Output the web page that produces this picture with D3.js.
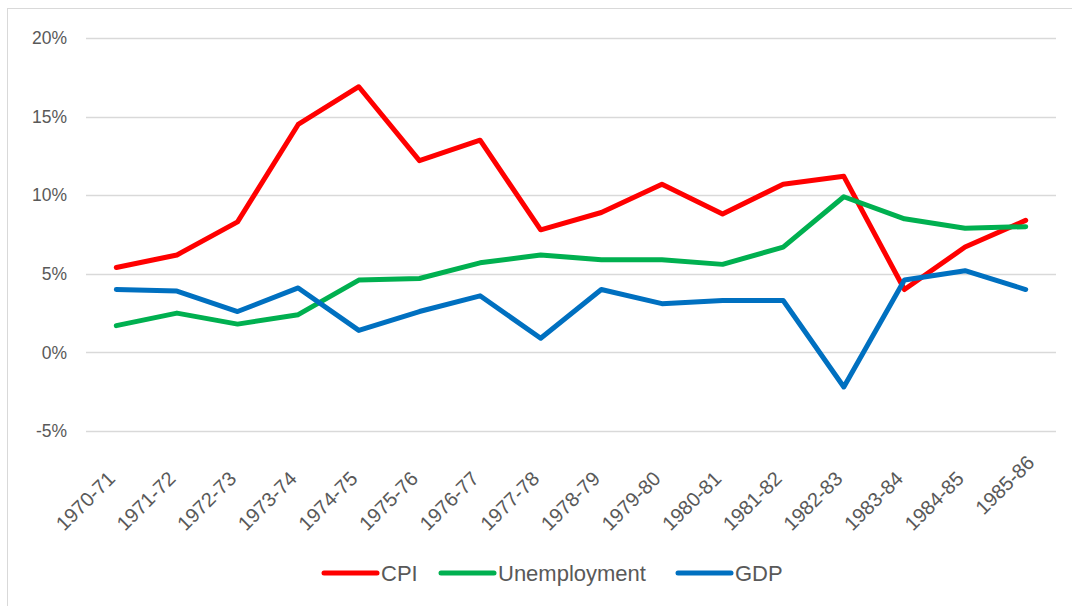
<!DOCTYPE html>
<html>
<head>
<meta charset="utf-8">
<script src="https://cdn.jsdelivr.net/npm/d3@7"></script>
<style>
  body { margin: 0; background: #fff; }
  svg { font-family: "Liberation Sans", "DejaVu Sans", sans-serif; }
</style>
</head>
<body>
<div id="chart"></div>
<script>
const width = 1072;
const height = 606;
const margin = { top: 38, right: 16, bottom: 174, left: 86 };

const years = ["1970-71", "1971-72", "1972-73", "1973-74", "1974-75", "1975-76", "1976-77", "1977-78",
    "1978-79", "1979-80", "1980-81", "1981-82", "1982-83", "1983-84", "1984-85", "1985-86"];
const cpi = [5.4, 6.2, 8.3, 14.5, 16.9, 12.2, 13.5, 7.8, 8.9, 10.7, 8.8, 10.7, 11.2, 4.0, 6.7, 8.4];
const unemployment = [1.7, 2.5, 1.8, 2.4, 4.6, 4.7, 5.7, 6.2, 5.9, 5.9, 5.6, 6.7, 9.9, 8.5, 7.9, 8.0];
const gdp = [4.0, 3.9, 2.6, 4.1, 1.4, 2.6, 3.6, 0.9, 4.0, 3.1, 3.3, 3.3, -2.2, 4.6, 5.2, 4.0];
const yTicks = [-5, 0, 5, 10, 15, 20];

const series = [
    { name: "CPI", values: cpi, color: "#FF0000" },
    { name: "Unemployment", values: unemployment, color: "#00B050" },
    { name: "GDP", values: gdp, color: "#0070C0" }
];

const svg = d3.select("#chart").append("svg")
    .attr("width", width)
    .attr("height", height);

// chart frame
svg.append("rect")
    .attr("x", 7.5).attr("y", 8.5)
    .attr("width", 1100).attr("height", 700)
    .attr("fill", "none")
    .attr("stroke", "#D9D9D9");

const x = d3.scaleBand()
    .domain(years)
    .range([margin.left, width - margin.right]);

const y = d3.scaleLinear()
    .domain([-5, 20])
    .range([height - margin.bottom - 1, margin.top]);

// gridlines
svg.append("g")
    .selectAll("line")
    .data(yTicks)
    .join("line")
    .attr("x1", margin.left)
    .attr("x2", width - margin.right)
    .attr("y1", d => Math.round(y(d)) + 0.5)
    .attr("y2", d => Math.round(y(d)) + 0.5)
    .attr("stroke", "#D9D9D9")
    .attr("stroke-width", 1.5);

// y labels
svg.append("g")
    .selectAll("text")
    .data(yTicks)
    .join("text")
    .attr("x", 67)
    .attr("y", d => y(d))
    .attr("dy", "0.35em")
    .attr("text-anchor", "end")
    .attr("fill", "#595959")
    .style("font-size", "17.5px")
    .text(d => d + "%");

// x labels (last one sits a bit higher, as in the original)
svg.append("g")
    .selectAll("text")
    .data(years)
    .join("text")
    .attr("transform", (d, i) => {
        const last = i === years.length - 1;
        const tx = x(d) + x.bandwidth() / 2 - 5 + (last ? 10 : 0);
        const ty = y(-5) + 44 - (last ? 16 : 0);
        return `translate(${tx},${ty}) rotate(-45)`;
    })
    .attr("text-anchor", "end")
    .attr("dy", "0.35em")
    .attr("fill", "#595959")
    .style("font-size", "20px")
    .text(d => d);

// lines
const line = d3.line()
    .x((d, i) => x(years[i]) + x.bandwidth() / 2)
    .y(d => y(d));

svg.append("g")
    .selectAll("path")
    .data(series)
    .join("path")
    .attr("d", d => line(d.values))
    .attr("fill", "none")
    .attr("stroke", d => d.color)
    .attr("stroke-width", 5)
    .attr("stroke-linejoin", "round")
    .attr("stroke-linecap", "round");

// legend
const legendItems = [
    { x: 324, w: 53 },
    { x: 441, w: 53 },
    { x: 678, w: 53 }
];
const legend = svg.append("g");
series.forEach((s, i) => {
    const it = legendItems[i];
    legend.append("line")
        .attr("x1", it.x).attr("x2", it.x + it.w)
        .attr("y1", 573).attr("y2", 573)
        .attr("stroke", s.color)
        .attr("stroke-width", 5)
        .attr("stroke-linecap", "round");
    legend.append("text")
        .attr("x", it.x + it.w + 4)
        .attr("y", 573)
        .attr("dy", "0.35em")
        .attr("fill", "#595959")
        .style("font-size", "22px")
        .text(s.name);
});
</script>
</body>
</html>
